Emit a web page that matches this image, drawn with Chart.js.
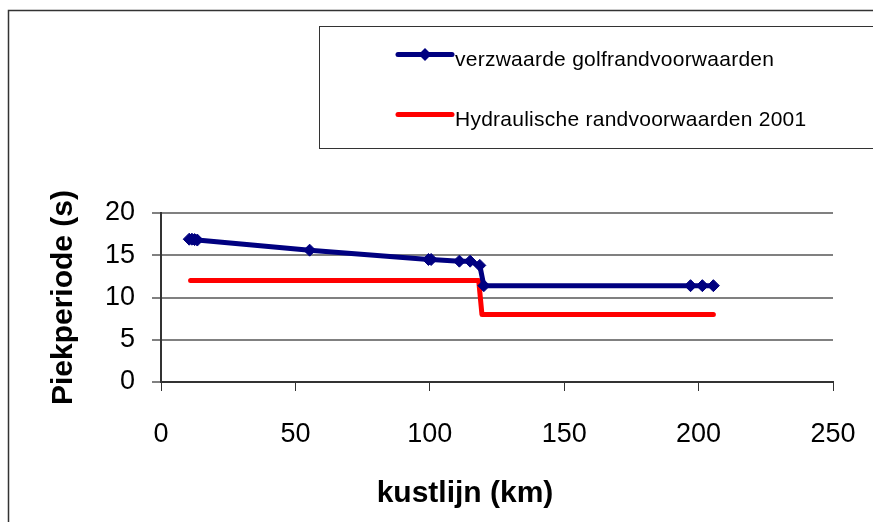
<!DOCTYPE html>
<html><head><meta charset="utf-8">
<script src="https://cdn.jsdelivr.net/npm/chart.js@4.4.1/dist/chart.umd.min.js"></script>
<style>html,body{margin:0;padding:0;background:#fff;}#wrap{position:relative;width:873px;height:522px;}</style>
</head><body><div id="wrap"><canvas id="c" width="873" height="522"></canvas></div>
<script>
// ---- data ----
const seriesNames = ['verzwaarde golfrandvoorwaarden', 'Hydraulische randvoorwaarden 2001'];
const kmVerzwaard = [10.5, 11.5, 12.5, 13.5, 55.3, 99.5, 100.5, 111, 115, 118.6, 120.1, 197, 201.4, 205.5];
const tpVerzwaard = [16.9, 16.9, 16.85, 16.8, 15.6, 14.5, 14.5, 14.3, 14.3, 13.8, 11.4, 11.4, 11.4, 11.4];
const kmHR2001 = [11, 118.2, 119.4, 205.5];
const tpHR2001 = [12, 12, 8, 8];
const xAxisTitle = 'kustlijn (km)';
const yAxisTitle = 'Piekperiode (s)';
const xMin = 0, xMax = 250, xStep = 50;
const yMin = 0, yMax = 20, yStep = 5;

const FONT = '"Liberation Sans", Arial, sans-serif';
const toPts = (xs, ys) => xs.map((x, i) => ({x: x, y: ys[i]}));

const decor = {
  id: 'decor',
  beforeDraw(chart) {
    const ctx = chart.ctx;
    ctx.save();
    ctx.fillStyle = '#fff';
    ctx.fillRect(0, 0, chart.width, chart.height);
    ctx.restore();
  },
  afterDraw(chart) {
    const ctx = chart.ctx;
    ctx.save();
    // outer chart frame (cropped at right/bottom)
    ctx.strokeStyle = '#333';
    ctx.lineWidth = 1.5;
    ctx.strokeRect(8.5, 10.5, 900, 600);
    // legend box
    ctx.lineWidth = 1;
    ctx.strokeRect(319.5, 26.5, 600, 122);
    const rows = [54.5, 114.5];
    chart.data.datasets.forEach((ds, i) => {
      const y = rows[i];
      ctx.strokeStyle = ds.borderColor;
      ctx.lineWidth = 5;
      ctx.lineCap = 'round';
      ctx.beginPath();
      ctx.moveTo(398, y);
      ctx.lineTo(452, y);
      ctx.stroke();
      if (ds.pointRadius > 0) {
        const r = 6.5, cx = 425;
        ctx.fillStyle = ds.borderColor;
        ctx.beginPath();
        ctx.moveTo(cx, y - r); ctx.lineTo(cx + r, y); ctx.lineTo(cx, y + r); ctx.lineTo(cx - r, y);
        ctx.closePath();
        ctx.fill();
      }
      ctx.fillStyle = '#000';
      ctx.font = '21px ' + FONT;
      ctx.textAlign = 'left';
      ctx.textBaseline = 'alphabetic';
      try { ctx.letterSpacing = '0.25px'; } catch (e) {}
      ctx.fillText(ds.label, 455, y + 11);
      try { ctx.letterSpacing = '0px'; } catch (e) {}
    });
    // x axis title
    ctx.fillStyle = '#000';
    ctx.font = 'bold 30px ' + FONT;
    ctx.textAlign = 'center';
    ctx.textBaseline = 'middle';
    ctx.fillText(xAxisTitle, 465, 494);
    ctx.restore();
  }
};

new Chart(document.getElementById('c'), {
  type: 'line',
  data: {
    datasets: [
      {
        label: seriesNames[0],
        data: toPts(kmVerzwaard, tpVerzwaard),
        borderColor: '#000080',
        backgroundColor: '#000080',
        borderWidth: 5,
        pointStyle: 'rectRot',
        pointRadius: 6,
        pointBorderWidth: 1,
        pointBackgroundColor: '#000080',
        pointBorderColor: '#000080',
        tension: 0,
        fill: false
      },
      {
        label: seriesNames[1],
        data: toPts(kmHR2001, tpHR2001),
        borderColor: '#ff0000',
        backgroundColor: '#ff0000',
        borderWidth: 5,
        borderCapStyle: 'round',
        borderJoinStyle: 'round',
        pointRadius: 0,
        tension: 0,
        fill: false
      }
    ]
  },
  options: {
    responsive: false,
    animation: false,
    devicePixelRatio: 1,
    layout: {padding: {left: 0, top: 213, right: 40, bottom: 0}},
    plugins: {legend: {display: false}, tooltip: {enabled: false}},
    scales: {
      x: {
        type: 'linear',
        min: xMin, max: xMax,
        afterFit(scale) { scale.height = 140; scale.paddingLeft = 0; scale.paddingRight = 0; },
        ticks: {stepSize: xStep, color: '#000', padding: 27, font: {family: FONT, size: 27}, maxRotation: 0},
        grid: {drawOnChartArea: false, drawTicks: true, tickLength: 9, color: '#333', lineWidth: 1},
        border: {display: true, color: '#333', width: 2},
        title: {display: false}
      },
      y: {
        min: yMin, max: yMax,
        afterFit(scale) { scale.width = 161; scale.paddingTop = 0; scale.paddingBottom = 0; },
        ticks: {stepSize: yStep, color: '#000', padding: 17, font: {family: FONT, size: 27}},
        grid: {drawTicks: true, tickLength: 9, color: '#808080', lineWidth: 2},
        border: {display: true, color: '#333', width: 2},
        title: {display: true, text: yAxisTitle, color: '#000', font: {family: FONT, size: 30, weight: 'bold'}, padding: {top: 46, bottom: 0}}
      }
    }
  },
  plugins: [decor]
});
</script></body></html>
